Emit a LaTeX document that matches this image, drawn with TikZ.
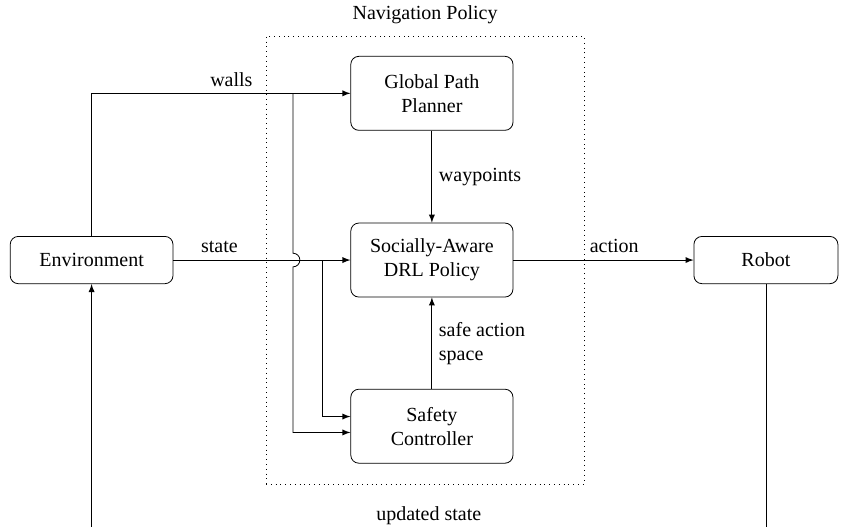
\documentclass[tikz,border=0pt]{standalone}
\usepackage{fontspec}
\setmainfont{Liberation Serif}
\usetikzlibrary{positioning, arrows.meta, calc}

\tikzset{
  block/.style={draw, rounded corners, align=center,
        minimum width=2.85cm,
        minimum height=1.3cm},
  io/.style={draw, rounded corners,
        minimum height=0.83cm},
}

\begin{document}
\begin{tikzpicture}
\useasboundingbox (-7.59,-4.69) rectangle (7.33,4.57);

\node[block] (drl) at (0,0) {Socially-Aware\\DRL Policy};
\node[block] (gpp) at ($(drl) + (0, 2.93)$) {Global Path\\Planner};
\node[block] (safe) at ($(drl) + (0, -2.92)$) {Safety\\Controller};

\node[io, minimum width=2.86cm] (env) at ($(drl) + (-5.98, 0)$) {Environment};
\node[io, minimum width=2.53cm] (robot) at ($(drl) + (5.87, 0)$) {Robot};

\node[draw, dotted,
        minimum width=5.59cm,
        minimum height=7.87cm] (nav) at ($(drl) + (-0.12, 0)$) {};
\node[above=0.08cm of nav.north] (navlabel) {Navigation Policy};

% helper points
\coordinate (wallsSplit) at (-2.44, 2.93);
\coordinate (jumpTop) at (-2.44, 0.12);
\coordinate (stateSplit) at (-1.93, 0);
\coordinate (safeHigh) at ($(safe.west) + (0, 0.17)$);
\coordinate (safeLow) at ($(safe.west) + (0, -0.11)$);
\coordinate (loopLevel) at (0, -4.78);
\coordinate (loopCorner) at (env.south |- loopLevel);

\draw [-latex]
    (env.north) |- node[above, pos=0.77] {walls} (gpp.west);

\draw [-latex]
    (wallsSplit) -- (jumpTop) arc (90:-90:0.12) |- (safeLow);

\draw [-latex]
    (env.east) -- node[above, pos=0.26] {state} (drl.west);

\draw [-latex]
    (stateSplit) |- (safeHigh);

\draw [-latex]
    (gpp) -- node[right] {waypoints} (drl);

\draw [-latex]
    (safe) -- node[right, align=left] {safe action\\space} (drl);

\draw [-latex]
    (drl) -- node[above, pos=0.56] {action} (robot);

\draw [-latex]
    (robot.south) |- node[above, pos=0.75] {updated state} (loopCorner) -- (env.south);

\end{tikzpicture}
\end{document}
